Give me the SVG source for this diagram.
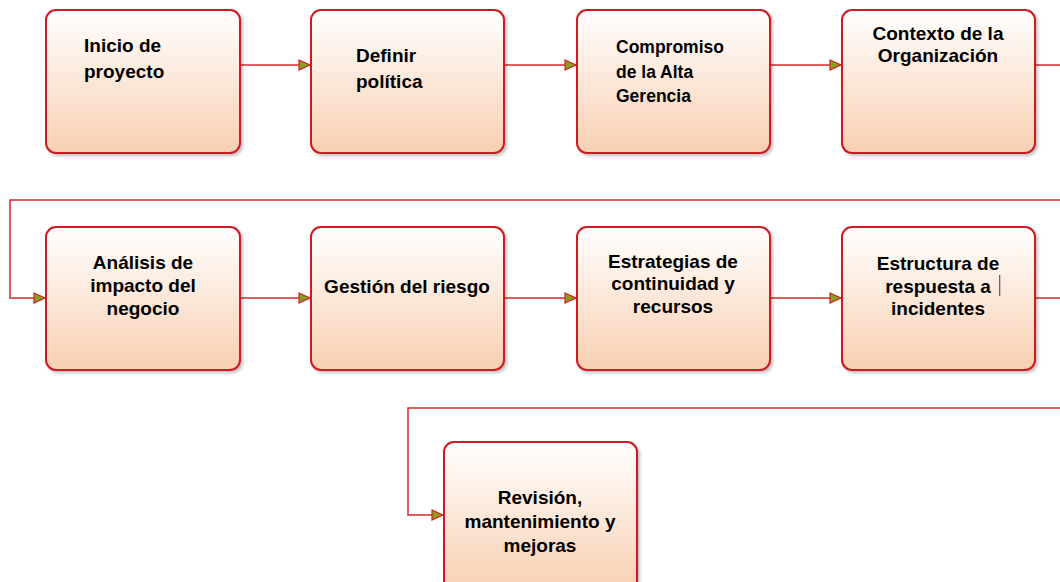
<svg xmlns="http://www.w3.org/2000/svg" width="1060" height="582" viewBox="0 0 1060 582">
<defs>
<linearGradient id="g" x1="0" y1="0" x2="0" y2="1">
<stop offset="0" stop-color="#ffffff"/>
<stop offset="1" stop-color="#f8cfb1"/>
</linearGradient>
<filter id="sh" x="-5%" y="-5%" width="115%" height="115%">
<feDropShadow dx="2" dy="2" stdDeviation="1.5" flood-color="#000" flood-opacity="0.25"/>
</filter>
<marker id="arr" markerWidth="14" markerHeight="12" refX="12" refY="6" orient="auto" markerUnits="userSpaceOnUse">
<path d="M1,1 L12,6 L1,11 Z" fill="#86a01c" stroke="#d0202a" stroke-width="1.2"/>
</marker>
</defs>
<style>
.box{fill:url(#g);stroke:#cc1a24;stroke-width:2;filter:url(#sh)}
.t{font-family:"Liberation Sans",Arial,sans-serif;font-weight:700;font-size:19px;fill:#000}
.s{font-size:17.5px}
.c{text-anchor:middle}
.ln{fill:none;stroke:#d42a2a;stroke-width:1.5}
</style>
<rect width="1060" height="582" fill="#fff"/>
<g id="connectors">
<path class="ln" d="M240,65 H310" marker-end="url(#arr)"/>
<path class="ln" d="M504,65 H576" marker-end="url(#arr)"/>
<path class="ln" d="M770,65 H841" marker-end="url(#arr)"/>
<path class="ln" d="M1035,65 H1060"/>
<path class="ln" d="M1060,200 H10 V298 H45" marker-end="url(#arr)"/>
<path class="ln" d="M240,298 H310" marker-end="url(#arr)"/>
<path class="ln" d="M504,298 H576" marker-end="url(#arr)"/>
<path class="ln" d="M770,298 H841" marker-end="url(#arr)"/>
<path class="ln" d="M1035,298 H1060"/>
<path class="ln" d="M1060,408 H408 V515 H443" marker-end="url(#arr)"/>
</g>
<g id="n1"><rect class="box" x="46" y="10" width="194" height="143" rx="10"/>
<text class="t" x="84" y="52">Inicio de</text><text class="t" x="84" y="78">proyecto</text></g>
<g id="n2"><rect class="box" x="311" y="10" width="193" height="143" rx="10"/>
<text class="t" x="356" y="62">Definir</text><text class="t" x="356" y="88">política</text></g>
<g id="n3"><rect class="box" x="577" y="10" width="193" height="143" rx="10"/>
<text class="t s" x="616" y="53">Compromiso</text><text class="t s" x="616" y="78">de la Alta</text><text class="t s" x="616" y="102">Gerencia</text></g>
<g id="n4"><rect class="box" x="842" y="10" width="193" height="143" rx="10"/>
<text class="t c" x="938" y="40">Contexto de la</text><text class="t c" x="938" y="62">Organización</text></g>
<g id="n5"><rect class="box" x="46" y="227" width="194" height="143" rx="10"/>
<text class="t c" x="143" y="269">Análisis de</text><text class="t c" x="143" y="292">impacto del</text><text class="t c" x="143" y="315">negocio</text></g>
<g id="n6"><rect class="box" x="311" y="227" width="193" height="143" rx="10"/>
<text class="t c" x="407" y="293">Gestión del riesgo</text></g>
<g id="n7"><rect class="box" x="577" y="227" width="193" height="143" rx="10"/>
<text class="t c" x="673" y="268">Estrategias de</text><text class="t c" x="673" y="290">continuidad y</text><text class="t c" x="673" y="313">recursos</text></g>
<g id="n8"><rect class="box" x="842" y="227" width="193" height="143" rx="10"/>
<text class="t c" x="938" y="270">Estructura de</text><text class="t c" x="938" y="293">respuesta a</text><text class="t c" x="938" y="315">incidentes</text>
<rect x="999" y="275" width="1.3" height="21" fill="#666"/></g>
<g id="n9"><rect class="box" x="444" y="442" width="193" height="150" rx="10"/>
<text class="t c" x="540" y="504">Revisión,</text><text class="t c" x="540" y="528">mantenimiento y</text><text class="t c" x="540" y="552">mejoras</text></g>
</svg>
